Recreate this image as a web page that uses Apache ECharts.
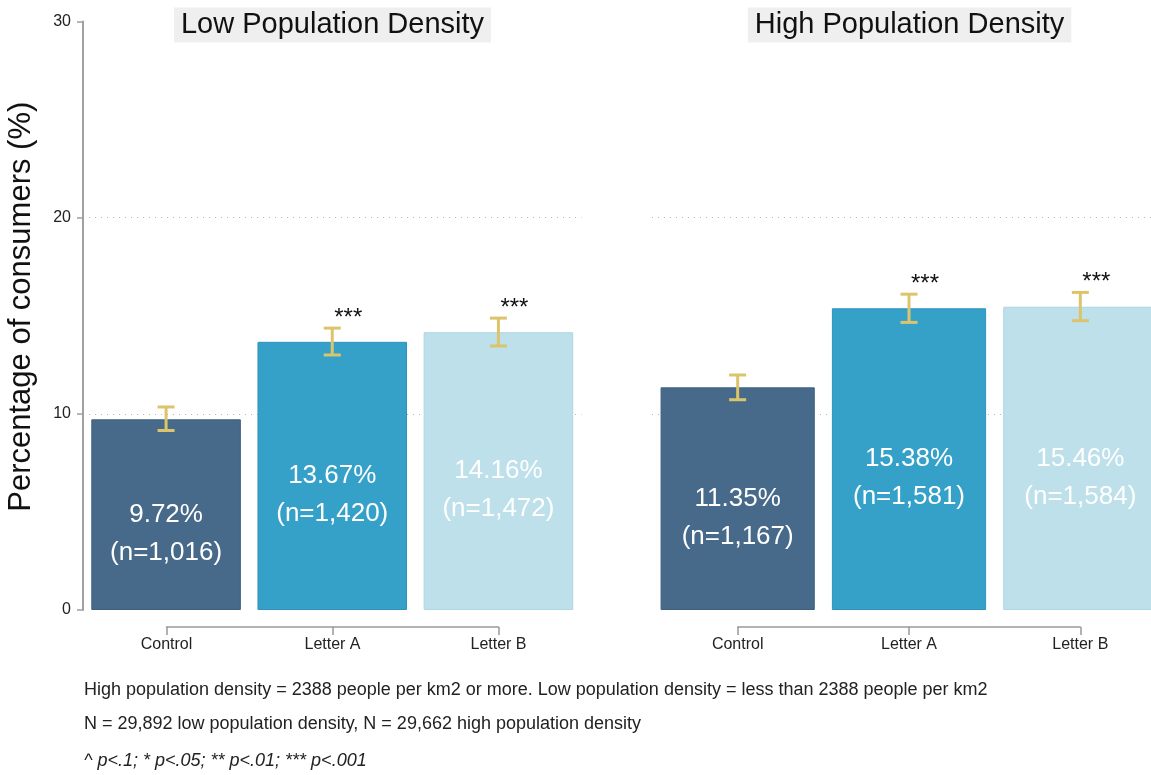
<!DOCTYPE html>
<html>
<head>
<meta charset="utf-8">
<script src="https://cdn.jsdelivr.net/npm/echarts@6/dist/echarts.min.js"></script>
<style>html,body{margin:0;padding:0;background:#fff;}#chart{width:1151px;height:775px;}</style>
</head>
<body>
<div id="chart"></div>
<script>
var categories = ['Control', 'Letter A', 'Letter B'];
var panelTitles = ['Low Population Density', 'High Population Density'];
var lowValues = [9.72, 13.67, 14.16];
var lowN = ['1,016', '1,420', '1,472'];
var lowCILow = [9.15, 13.0, 13.46];
var lowCIHigh = [10.35, 14.37, 14.88];
var lowSig = ['', '***', '***'];
var highValues = [11.35, 15.38, 15.46];
var highN = ['1,167', '1,581', '1,584'];
var highCILow = [10.72, 14.66, 14.75];
var highCIHigh = [11.98, 16.1, 16.19];
var highSig = ['', '***', '***'];
var yTicks = [0, 10, 20, 30];
var notes = [
  'High population density = 2388 people per km2 or more. Low population density = less than 2388 people per km2',
  'N = 29,892 low population density, N = 29,662 high population density',
  '^ p<.1; * p<.05; ** p<.01; *** p<.001'
];

var FONT = "'Liberation Sans', Arial, sans-serif";
var barColors = ['#486a8a', '#35a1c9', '#bde0ea'];
var barBorders = ['#3e5f7f', '#2c93bd', '#aed6e3'];
var errColor = '#dcc46c';

var chart = echarts.init(document.getElementById('chart'), null, {renderer: 'canvas'});

function barData(vals) {
  return vals.map(function (v, i) {
    return {value: v, itemStyle: {color: barColors[i], borderColor: barBorders[i], borderWidth: 1}};
  });
}
function errData(lo, hi) {
  return lo.map(function (l, i) { return [i, l, hi[i]]; });
}
var sigBySeries = {2: lowSig, 3: highSig};
function renderErr(params, api) {
  var x = api.value(0);
  var lo = api.coord([x, api.value(1)]);
  var hi = api.coord([x, api.value(2)]);
  var sig = sigBySeries[params.seriesIndex][params.dataIndex];
  var hw = 8.5;
  var style = {stroke: errColor, lineWidth: 3, fill: null};
  var children = [
    {type: 'line', shape: {x1: hi[0], y1: hi[1], x2: lo[0], y2: lo[1]}, style: style},
    {type: 'line', shape: {x1: hi[0] - hw, y1: hi[1], x2: hi[0] + hw, y2: hi[1]}, style: style},
    {type: 'line', shape: {x1: lo[0] - hw, y1: lo[1], x2: lo[0] + hw, y2: lo[1]}, style: style}
  ];
  if (sig) {
    children.push({type: 'text', style: {text: sig, x: hi[0] + 16, y: hi[1] - 10, align: 'center', verticalAlign: 'middle',
      fill: '#111', font: '24px ' + FONT}});
  }
  return {type: 'group', children: children};
}

function labelFor(vals, ns) {
  return {
    show: true, position: 'inside', offset: [0, 19], color: '#ffffff', fontSize: 26, lineHeight: 38,
    fontFamily: FONT,
    formatter: function (p) { return vals[p.dataIndex].toFixed(2) + '%\n(n=' + ns[p.dataIndex] + ')'; }
  };
}

var valueAxisBase = {
  type: 'value', min: 0, max: 30, interval: 10,
  splitLine: {show: true, showMinLine: false, showMaxLine: false, lineStyle: {type: [1, 5], color: '#b5b5b5', width: 1}}
};

var option = {
  backgroundColor: '#ffffff',
  animation: false,
  textStyle: {fontFamily: FONT},
  grid: [
    {left: 83, width: 498.5, top: 21.5, bottom: 165, outerBoundsMode: 'none', containLabel: false},
    {left: 652, width: 514, top: 21.5, bottom: 165, outerBoundsMode: 'none', containLabel: false},
    {left: 166.5, width: 332, top: 21.5, bottom: 148, outerBoundsMode: 'none', containLabel: false},
    {left: 737.7, width: 342.6, top: 21.5, bottom: 148, outerBoundsMode: 'none', containLabel: false}
  ],
  xAxis: [
    {type: 'category', gridIndex: 0, data: categories, show: false},
    {type: 'category', gridIndex: 1, data: categories, show: false},
    {type: 'category', gridIndex: 2, data: categories, boundaryGap: false,
      axisLine: {show: true, lineStyle: {color: '#999', width: 1.5}},
      axisTick: {show: true, length: 8, lineStyle: {color: '#999', width: 1.5}},
      axisLabel: {color: '#222', fontSize: 16, margin: 10, fontFamily: FONT},
      splitLine: {show: false}},
    {type: 'category', gridIndex: 3, data: categories, boundaryGap: false,
      axisLine: {show: true, lineStyle: {color: '#999', width: 1.5}},
      axisTick: {show: true, length: 8, lineStyle: {color: '#999', width: 1.5}},
      axisLabel: {color: '#222', fontSize: 16, margin: 10, fontFamily: FONT},
      splitLine: {show: false}}
  ],
  yAxis: [
    Object.assign({}, valueAxisBase, {
      gridIndex: 0,
      name: 'Percentage of consumers (%)', nameLocation: 'middle', nameGap: 46,
      nameTextStyle: {fontSize: 31, color: '#111', fontFamily: FONT, padding: [0, 0, 0, 18]},
      axisLine: {show: true, lineStyle: {color: '#a0a0a0', width: 2}},
      axisTick: {show: true, length: 6, lineStyle: {color: '#a0a0a0', width: 1.5}},
      axisLabel: {color: '#222', fontSize: 16, margin: 12, fontFamily: FONT,
        formatter: function (v) { return yTicks.indexOf(v) >= 0 ? String(v) : ''; }}
    }),
    Object.assign({}, valueAxisBase, {
      gridIndex: 1, axisLine: {show: false}, axisTick: {show: false}, axisLabel: {show: false}
    }),
    {type: 'value', gridIndex: 2, show: false, splitLine: {show: false}},
    {type: 'value', gridIndex: 3, show: false, splitLine: {show: false}}
  ],
  series: [
    {type: 'bar', xAxisIndex: 0, yAxisIndex: 0, data: barData(lowValues), barCategoryGap: '10%',
      label: labelFor(lowValues, lowN)},
    {type: 'bar', xAxisIndex: 1, yAxisIndex: 1, data: barData(highValues), barCategoryGap: '10%',
      label: labelFor(highValues, highN)},
    {type: 'custom', xAxisIndex: 0, yAxisIndex: 0, renderItem: renderErr,
      encode: {x: 0, y: [1, 2]}, data: errData(lowCILow, lowCIHigh), z: 5},
    {type: 'custom', xAxisIndex: 1, yAxisIndex: 1, renderItem: renderErr,
      encode: {x: 0, y: [1, 2]}, data: errData(highCILow, highCIHigh), z: 5}
  ],
  graphic: [
    {type: 'text', x: 332.5, y: 25, style: {text: panelTitles[0], align: 'center', verticalAlign: 'middle',
      font: '29px ' + FONT, fill: '#111', backgroundColor: '#efefef', padding: [4, 7, 2, 7]}},
    {type: 'text', x: 909.5, y: 25, style: {text: panelTitles[1], align: 'center', verticalAlign: 'middle',
      font: '29px ' + FONT, fill: '#111', backgroundColor: '#efefef', padding: [4, 7, 2, 7]}},
    {type: 'text', x: 84, y: 690, style: {text: notes[0], verticalAlign: 'middle', font: '18px ' + FONT, fill: '#222'}},
    {type: 'text', x: 84, y: 724, style: {text: notes[1], verticalAlign: 'middle', font: '18px ' + FONT, fill: '#222'}},
    {type: 'text', x: 84, y: 761, style: {text: notes[2], verticalAlign: 'middle', font: 'italic 18px ' + FONT, fill: '#222'}}
  ]
};
chart.setOption(option);
</script>
</body>
</html>
